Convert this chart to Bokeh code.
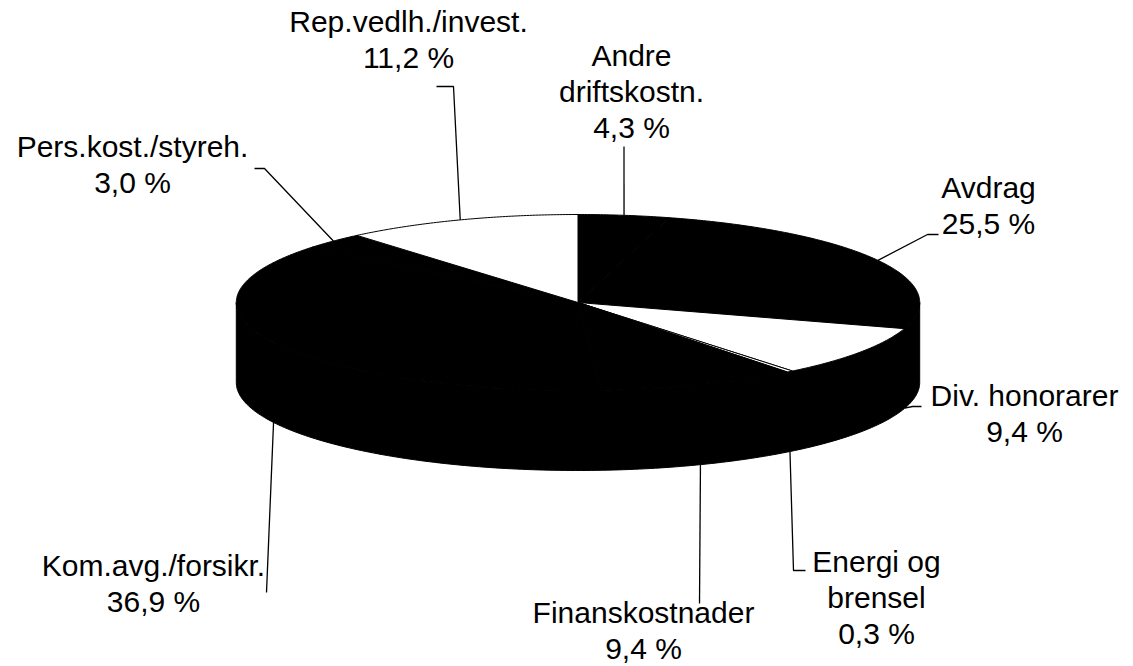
import numpy as np
from bokeh.plotting import figure
from bokeh.models import Range1d
from bokeh.core.properties import value
from bokeh.embed import file_html
from bokeh.resources import INLINE

# ---- data (clockwise from 12 o'clock) ----
categories = ["Andre driftskostn.", "Avdrag", "Div. honorarer", "Energi og brensel",
              "Finanskostnader", "Kom.avg./forsikr.", "Pers.kost./styreh.", "Rep.vedlh./invest."]
shares = [4.3, 25.5, 9.4, 0.3, 9.4, 36.9, 3.0, 11.2]
label_lines = [["Andre", "driftskostn."], ["Avdrag"], ["Div. honorarer"], ["Energi og", "brensel"],
               ["Finanskostnader"], ["Kom.avg./forsikr."], ["Pers.kost./styreh."], ["Rep.vedlh./invest."]]
slice_colors = ["black", "black", "white", "white", "black", "black", "black", "white"]

# ---- layout (picture pixel coordinates) ----
CX, CY, RX, RY, DEPTH = 577.5, 302.0, 341.7, 88.0, 80.0
W, H = 1133, 666
FONT = value("Liberation Sans")
FS = "30px"
LINE_STEP = 36
TEXT_DY = -10

# label: (center x, first baseline, leader angle or None=mid, on bottom rim?, elbow points)
label_layout = [
    (631, 65, None, False, [(623.5, 146)]),
    (988, 197, None, False, [(927, 234), (938, 234)]),
    (1024, 405, 107.0, True, [(912, 406), (921, 406)]),
    (876, 571, None, True, [(793, 570), (805, 570)]),
    (643, 622, 159.0, True, [(699, 603)]),
    (153, 575, 243.0, True, [(266, 592)]),
    (132, 156, None, False, [(264, 168), (254, 168)]),
    (408, 31, None, False, [(453, 86), (436, 86)]),
]


def rim(theta_deg, dy=0.0):
    t = np.radians(theta_deg)
    return CX + RX * np.sin(t), CY - RY * np.cos(t) + dy


p = figure(width=W, height=H, output_backend="svg", toolbar_location=None,
           x_range=Range1d(0, W), y_range=Range1d(H, 0),
           min_border=0, outline_line_color=None, background_fill_color="white",
           border_fill_color="white")
p.axis.visible = False
p.grid.visible = False

# side wall (front half)
th = np.linspace(90, 270, 200)
tx, ty = rim(th)
bx, by = rim(th[::-1], DEPTH)
p.patch(np.concatenate([tx, bx]), np.concatenate([ty, by]), fill_color="black",
        line_color="black", line_width=1)

# top slices
total = sum(shares)
starts = np.cumsum([0] + shares[:-1]) / total * 360.0
ends = np.cumsum(shares) / total * 360.0
xs, ys = [], []
for a0, a1 in zip(starts, ends):
    n = max(3, int((a1 - a0) * 2))
    th = np.linspace(a0, a1, n)
    ax, ay = rim(th)
    xs.append(np.concatenate([[CX], ax]))
    ys.append(np.concatenate([[CY], ay]))
p.patches(xs, ys, fill_color=slice_colors, line_color="black", line_width=1)

# labels and leader lines
tx_, ty_, tt_ = [], [], []
lx, ly = [], []
for i, (cxl, base, ang, bottom, elbows) in enumerate(label_layout):
    mid = (starts[i] + ends[i]) / 2 if ang is None else ang
    rx0, ry0 = rim(mid, DEPTH if bottom else 0.0)
    lx.append([rx0] + [e[0] for e in elbows])
    ly.append([ry0] + [e[1] for e in elbows])
    pct = f"{shares[i]:.1f} %".replace(".", ",")
    lines = label_lines[i] + [pct]
    for k, s in enumerate(lines):
        tx_.append(cxl)
        ty_.append(base + TEXT_DY + k * LINE_STEP)
        tt_.append(s)

p.multi_line(lx, ly, line_color="black", line_width=1.3)
p.text(x=tx_, y=ty_, text=tt_, text_font=FONT, text_font_size=FS, text_align="center",
       text_baseline="alphabetic", text_color="black")

open("out.html", "w").write(file_html(p, INLINE))
